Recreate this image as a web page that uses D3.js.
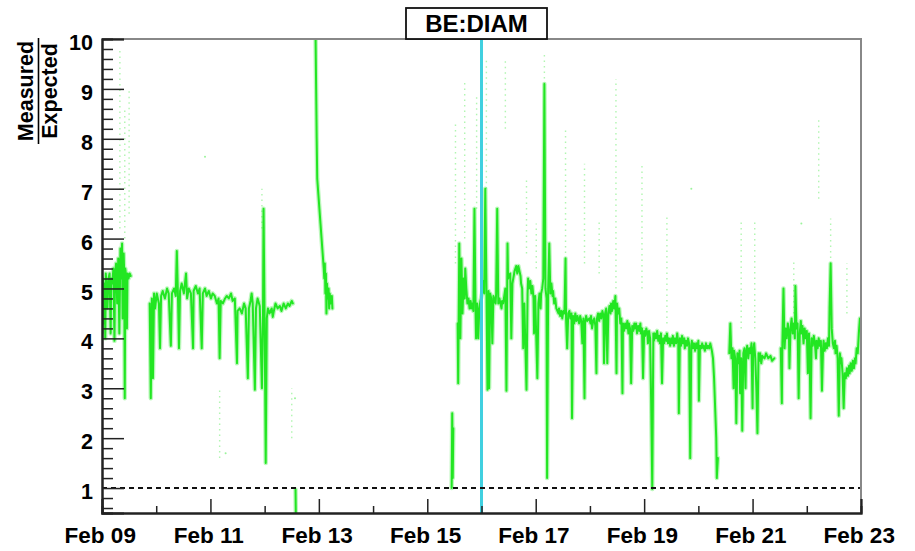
<!DOCTYPE html>
<html><head><meta charset="utf-8">
<script src="https://cdn.jsdelivr.net/npm/d3@7"></script>
<style>
body{margin:0;background:#fff}
svg{display:block}
text{font-family:"Liberation Sans",Arial,Helvetica,sans-serif;font-weight:bold;fill:#000}
</style>
</head><body>
<svg id="chart" width="915" height="551"></svg>
<script>
// ---------------- data ----------------
const startUTC = Date.UTC(2011, 1, 9); // Feb 09
const xDomainDays = [0, 14];
const yDomain = [0.5, 10];
const yMajorTicks = [1, 2, 3, 4, 5, 6, 7, 8, 9, 10];
const xMajorDays = [0, 2, 4, 6, 8, 10, 12, 14];
const xMinorDays = [1, 3, 5, 7, 9, 11, 13];
const chartTitle = "BE:DIAM";
const yTitleTop = "Measured";
const yTitleBottom = "Expected";
const refLineValue = 1;
const markerDay = 7.0;

// [day offset from Feb 09 00:00, measured/expected]
const segA = [[0.00,5.0],[0.01,4.1],[0.02,5.2],[0.03,4.3],[0.05,5.1],[0.06,4.0],[0.07,5.3],[0.09,5.0],[0.10,4.6],[0.12,5.2],[0.14,5.3],[0.16,4.1],[0.17,5.2],[0.19,5.1],[0.21,5.4],[0.23,3.95],[0.24,5.3],[0.26,5.5],[0.28,4.7],[0.30,5.6],[0.32,4.1],[0.34,5.8],[0.35,5.2],[0.37,5.9],[0.38,4.4],[0.40,5.7],[0.41,5.3],[0.42,2.8],[0.43,5.4],[0.45,5.2],[0.46,4.2],[0.47,5.3],[0.49,5.2],[0.51,5.3],[0.53,5.25]];
const segB = [[0.88,4.7],[0.90,2.8],[0.92,4.8],[0.94,3.2],[0.96,4.9],[0.98,4.6],[1.01,4.9],[1.05,4.7],[1.07,3.8],[1.09,4.85],[1.12,4.95],[1.16,4.8],[1.20,5.0],[1.23,4.9],[1.27,3.85],[1.29,4.9],[1.33,5.0],[1.36,4.85],[1.38,5.75],[1.40,4.9],[1.42,3.8],[1.44,4.95],[1.47,5.1],[1.51,4.9],[1.55,5.3],[1.57,4.8],[1.60,5.0],[1.64,4.9],[1.68,3.8],[1.69,4.95],[1.73,5.05],[1.77,4.9],[1.80,5.0],[1.84,3.8],[1.86,4.9],[1.90,5.0],[1.93,4.85],[1.97,4.95],[2.01,4.8],[2.04,4.9],[2.08,4.85],[2.12,4.7],[2.15,4.8],[2.17,3.6],[2.19,4.75],[2.23,4.7],[2.27,4.8],[2.30,4.85],[2.34,4.8],[2.38,4.9],[2.41,4.75],[2.45,4.8],[2.49,3.5],[2.50,4.55],[2.54,4.6],[2.58,4.5],[2.62,4.7],[2.65,4.6],[2.69,3.2],[2.71,4.6],[2.74,4.75],[2.76,4.9],[2.78,4.7],[2.82,2.97],[2.84,4.6],[2.87,4.8],[2.91,4.65],[2.95,3.0],[2.97,4.5],[2.98,6.6],[3.00,4.3],[3.02,1.5],[3.04,4.4],[3.06,4.6],[3.09,4.5],[3.13,4.6],[3.15,4.43],[3.17,4.55],[3.20,4.7],[3.24,4.6],[3.28,4.65],[3.31,4.55],[3.35,4.7],[3.39,4.6],[3.43,4.7],[3.46,4.65],[3.50,4.75],[3.52,4.7]];
const segDip = [[3.57,0.97],[3.575,0.5]];
const segC = [[3.94,10.0],[3.95,9.0],[3.96,8.0],[3.97,7.2],[3.99,6.9],[4.01,6.6],[4.03,6.3],[4.05,6.0],[4.07,5.7],[4.09,5.4],[4.10,5.2],[4.11,5.5],[4.12,4.9],[4.13,5.3],[4.14,4.5],[4.15,5.1],[4.16,4.8],[4.18,5.0],[4.19,4.6],[4.20,4.9],[4.22,4.7],[4.24,4.85],[4.25,4.6]];
const segD = [[6.45,1.0],[6.46,2.5],[6.47,1.2],[6.48,2.2]];
const segE = [[6.56,4.3],[6.57,3.1],[6.59,5.9],[6.61,4.0],[6.63,5.6],[6.65,4.5],[6.67,5.2],[6.69,4.8],[6.70,5.4],[6.72,5.0],[6.74,4.7],[6.76,4.8],[6.78,4.6],[6.80,4.75],[6.81,4.6],[6.83,4.7],[6.85,4.55],[6.87,6.6],[6.89,4.6],[6.90,4.0],[6.92,4.7],[6.94,4.0],[6.96,4.6],[6.98,4.75],[7.01,4.9],[7.03,5.15],[7.05,4.9],[7.07,7.0],[7.09,5.1],[7.11,2.97],[7.13,4.95],[7.14,3.0],[7.16,4.9],[7.18,4.8],[7.20,3.9],[7.22,4.85],[7.26,4.7],[7.27,4.9],[7.29,6.6],[7.31,4.7],[7.33,4.8],[7.37,4.6],[7.38,4.75],[7.40,4.7],[7.44,5.0],[7.46,2.95],[7.48,5.9],[7.49,5.2],[7.53,5.3],[7.55,4.0],[7.57,5.1],[7.61,5.35],[7.64,5.45],[7.66,5.3],[7.68,5.45],[7.72,5.25],[7.73,5.1],[7.75,5.0],[7.77,3.8],[7.79,4.7],[7.83,2.97],[7.85,4.9],[7.86,5.2],[7.88,5.0],[7.90,5.15],[7.92,4.9],[7.94,5.05],[7.96,4.8],[7.97,4.1],[7.99,4.85],[8.03,3.2],[8.05,4.7],[8.07,4.9],[8.09,4.6],[8.10,4.9],[8.12,5.0],[8.14,5.2],[8.16,9.1],[8.18,5.0],[8.20,4.8],[8.21,1.2],[8.23,5.0],[8.25,5.9],[8.27,4.9],[8.29,5.1],[8.31,4.85],[8.32,4.95],[8.34,4.7],[8.36,4.8],[8.38,4.6],[8.40,4.55],[8.42,4.5],[8.43,4.6],[8.45,4.45],[8.47,4.55],[8.49,4.4],[8.51,4.55],[8.53,4.5],[8.55,5.6],[8.56,4.4],[8.58,3.8],[8.60,4.5],[8.62,4.55],[8.64,4.4],[8.66,4.5],[8.67,2.4],[8.69,4.45],[8.71,4.3],[8.73,4.5],[8.75,4.35],[8.77,4.45],[8.80,4.3],[8.82,4.45],[8.84,4.35],[8.86,3.9],[8.88,4.4],[8.90,2.8],[8.91,4.3],[8.93,4.45],[8.95,4.35],[8.99,4.4],[9.01,4.3],[9.02,4.45],[9.04,4.2],[9.06,4.35],[9.08,4.4],[9.10,4.25],[9.12,3.3],[9.13,4.4],[9.15,4.5],[9.17,4.35],[9.19,4.5],[9.21,4.4],[9.23,4.55],[9.25,4.45],[9.26,3.5],[9.28,4.5],[9.30,4.6],[9.32,3.5],[9.34,4.5],[9.36,4.65],[9.38,4.5],[9.39,4.7],[9.41,4.55],[9.43,4.75],[9.45,4.6],[9.47,4.85],[9.49,3.3],[9.50,4.7],[9.52,4.5],[9.54,4.6],[9.56,4.3],[9.58,4.4],[9.60,2.9],[9.61,4.3],[9.63,4.15],[9.65,4.3],[9.67,4.2],[9.69,4.35],[9.71,4.1],[9.72,4.3],[9.74,4.2],[9.76,3.1],[9.78,4.25],[9.80,4.15],[9.82,4.3],[9.83,4.2],[9.85,4.3],[9.87,4.1],[9.89,4.25],[9.91,4.15],[9.93,4.3],[9.94,4.1],[9.96,4.2],[9.98,3.2],[10.00,4.15],[10.02,4.05],[10.04,4.2],[10.06,4.1],[10.07,3.9],[10.09,4.15],[10.11,4.0],[10.13,2.7],[10.15,0.98],[10.17,4.1],[10.18,3.95],[10.20,4.1],[10.22,4.0],[10.24,4.15],[10.26,3.95],[10.28,4.05],[10.29,3.9],[10.31,4.1],[10.33,3.1],[10.35,4.0],[10.37,3.9],[10.39,4.05],[10.41,3.95],[10.42,4.1],[10.44,3.9],[10.46,4.0],[10.48,3.85],[10.50,4.0],[10.52,3.9],[10.53,4.05],[10.55,3.85],[10.57,4.0],[10.59,3.9],[10.61,4.1],[10.63,3.9],[10.64,2.5],[10.66,4.0],[10.68,3.85],[10.70,4.05],[10.72,3.9],[10.74,4.0],[10.75,3.8],[10.77,3.95],[10.79,3.85],[10.81,4.0],[10.83,3.9],[10.85,1.6],[10.87,3.85],[10.88,3.95],[10.90,3.8],[10.92,3.9],[10.94,3.75],[10.96,3.9],[10.98,3.8],[11.00,3.95],[11.01,2.75],[11.03,3.85],[11.05,3.8],[11.07,3.9],[11.09,3.8],[11.10,3.85],[11.12,3.75],[11.14,3.9],[11.16,3.8],[11.18,3.85],[11.20,3.8],[11.22,3.9],[11.23,3.85],[11.25,3.75],[11.27,3.6],[11.29,3.2],[11.31,2.6],[11.33,2.0],[11.34,1.2],[11.36,1.6]];
const segF = [[11.57,3.7],[11.59,4.3],[11.61,3.6],[11.63,3.8],[11.65,3.0],[11.66,3.75],[11.68,3.6],[11.70,2.3],[11.72,3.7],[11.74,3.5],[11.76,3.75],[11.77,2.9],[11.79,3.6],[11.81,2.15],[11.83,3.7],[11.85,3.8],[11.87,3.0],[11.88,3.7],[11.90,3.85],[11.92,3.6],[11.94,3.8],[11.96,3.7],[11.98,3.9],[12.00,2.6],[12.01,3.75],[12.03,3.9],[12.05,3.6],[12.07,3.0],[12.09,2.1],[12.11,3.7],[12.13,3.55],[12.14,3.7],[12.16,3.5],[12.18,3.65],[12.22,3.6],[12.25,3.7],[12.29,3.6],[12.33,3.65],[12.36,3.55],[12.40,3.6]];
const segG = [[12.52,3.8],[12.54,2.7],[12.55,3.9],[12.57,5.0],[12.59,3.8],[12.61,4.2],[12.63,4.0],[12.65,4.3],[12.67,4.1],[12.68,3.4],[12.70,4.2],[12.72,4.4],[12.74,4.1],[12.76,4.3],[12.78,4.0],[12.79,5.05],[12.81,4.2],[12.83,4.3],[12.85,2.8],[12.87,4.1],[12.89,4.35],[12.90,4.1],[12.92,4.25],[12.94,3.9],[12.96,4.2],[12.98,4.0],[13.00,4.15],[13.02,3.3],[13.04,4.1],[13.05,3.9],[13.07,2.4],[13.09,4.0],[13.11,3.85],[13.13,4.05],[13.15,3.9],[13.17,3.6],[13.18,3.95],[13.20,3.8],[13.22,4.0],[13.24,3.85],[13.26,3.95],[13.28,2.95],[13.30,3.8],[13.31,3.95],[13.33,3.75],[13.35,3.9],[13.37,3.8],[13.39,4.0],[13.41,3.85],[13.42,4.6],[13.44,5.5],[13.46,4.2],[13.48,3.9],[13.50,3.8],[13.52,3.95],[13.53,3.7],[13.55,3.85],[13.57,3.6],[13.59,2.45],[13.61,3.7],[13.63,3.5],[13.64,3.6],[13.66,3.3],[13.68,2.6],[13.70,3.3],[13.72,3.2],[13.74,3.4],[13.76,3.25],[13.78,3.45],[13.79,3.3],[13.81,3.5],[13.83,3.35],[13.85,3.55],[13.87,3.4],[13.89,3.6],[13.90,3.5],[13.92,3.8],[13.94,3.7],[13.96,4.1],[13.98,4.4]];

// sparse, faint columns of scattered points: [day, low, high]
const faintRanges = [[0.33,6.2,9.8],[0.42,6.0,8.6],[0.50,6.5,9.0],[2.17,1.6,3.0],[2.95,6.2,7.0],[3.50,2.0,3.0],[6.52,5.5,8.3],[6.69,6.0,9.2],[6.91,6.6,8.9],[7.09,7.0,9.6],[7.44,8.2,9.6],[7.83,5.7,7.2],[8.01,5.4,6.3],[8.16,9.1,9.7],[8.55,5.6,8.2],[8.90,5.5,7.5],[9.17,5.3,6.4],[9.48,5.0,9.2],[9.96,5.0,7.5],[10.42,4.3,6.5],[11.79,4.2,6.4],[12.04,4.2,6.4],[12.76,4.5,5.6],[13.22,6.8,8.4],[13.44,5.5,6.4],[13.74,4.5,5.5]];
const faintDots = [[1.90,7.64],[2.28,1.7],[3.56,2.8],[10.87,7.0],[12.90,6.3]];

// ---------------- layout ----------------
const W = 915, H = 551;
const plot = {left: 102, right: 861, top: 39, bottom: 513};
const green = "#22e622";

const toDate = d => new Date(startUTC + d * 864e5);
const x = d3.scaleUtc().domain(xDomainDays.map(toDate)).range([plot.left, plot.right]);
const y = d3.scaleLinear().domain(yDomain).range([plot.bottom, plot.top]);

const svg = d3.select("#chart");
svg.append("rect").attr("width", W).attr("height", H).attr("fill", "#fff");

svg.append("defs").append("clipPath").attr("id", "clip")
  .append("rect").attr("x", plot.left).attr("y", plot.top)
  .attr("width", plot.right - plot.left).attr("height", plot.bottom - plot.top);

const g = svg.append("g").attr("clip-path", "url(#clip)");

// faint scattered columns
g.selectAll("line.faint").data(faintRanges).join("line")
  .attr("class", "faint")
  .attr("x1", d => x(toDate(d[0]))).attr("x2", d => x(toDate(d[0])))
  .attr("y1", d => y(d[1])).attr("y2", d => y(d[2]))
  .attr("stroke", green).attr("stroke-width", 1.4)
  .attr("stroke-dasharray", "1.5,4").attr("opacity", 0.35);
g.selectAll("circle.faint").data(faintDots).join("circle")
  .attr("cx", d => x(toDate(d[0]))).attr("cy", d => y(d[1]))
  .attr("r", 1).attr("fill", green).attr("opacity", 0.45);

// main trace: soft halo + core
const line = d3.line().x(d => x(toDate(d[0]))).y(d => y(d[1]));
const segments = [segA, segB, segDip, segC, segD, segE, segF, segG];
g.selectAll("path.halo").data(segments).join("path")
  .attr("class", "halo")
  .attr("d", line).attr("fill", "none")
  .attr("stroke", green).attr("stroke-width", 4.5).attr("opacity", 0.3)
  .attr("stroke-linejoin", "round").attr("stroke-linecap", "round");
g.selectAll("path.trace").data(segments).join("path")
  .attr("class", "trace")
  .attr("d", line).attr("fill", "none")
  .attr("stroke", green).attr("stroke-width", 2)
  .attr("stroke-linejoin", "round").attr("stroke-linecap", "round");

// marker line (cyan)
svg.append("line")
  .attr("x1", x(toDate(markerDay))).attr("x2", x(toDate(markerDay)))
  .attr("y1", plot.top).attr("y2", plot.bottom)
  .attr("stroke", "#40d0e0").attr("stroke-width", 3);

// reference line at 1
svg.append("line")
  .attr("x1", plot.left).attr("x2", plot.right)
  .attr("y1", y(refLineValue)).attr("y2", y(refLineValue))
  .attr("stroke", "#111").attr("stroke-width", 2).attr("stroke-dasharray", "5,4");

// frame (top/right grey)
svg.append("path")
  .attr("d", `M${plot.left},${plot.top}H${plot.right}V${plot.bottom}`)
  .attr("fill", "none").attr("stroke", "#888").attr("stroke-width", 2);

// y axis
const yMinor = d3.range(6, 101, 2).map(v => v / 10).filter(v => !yMajorTicks.includes(v));
const yAxisMinor = svg.append("g").attr("transform", `translate(${plot.left},0)`)
  .call(d3.axisLeft(y).tickValues(yMinor).tickSize(-11).tickFormat(""));
const yAxis = svg.append("g").attr("transform", `translate(${plot.left},0)`)
  .call(d3.axisLeft(y).tickValues(yMajorTicks).tickSize(-22).tickPadding(9).tickFormat(d3.format("d")));
yAxis.selectAll("text").attr("font-size", 21.5).attr("dy", "0.49em");
[yAxis, yAxisMinor].forEach(a => {
  a.select(".domain").attr("stroke", "#222").attr("stroke-width", 2);
  a.selectAll(".tick line").attr("stroke", "#222").attr("stroke-width", 1.5);
});

// x axis
const xAxisMinor = svg.append("g").attr("transform", `translate(0,${plot.bottom})`)
  .call(d3.axisBottom(x).tickValues(xMinorDays.map(toDate)).tickSize(-7).tickFormat(""));
const xAxis = svg.append("g").attr("transform", `translate(0,${plot.bottom})`)
  .call(d3.axisBottom(x).tickValues(xMajorDays.map(toDate)).tickSize(-14).tickPadding(14)
    .tickFormat(d3.utcFormat("%b %d")));
xAxis.selectAll("text").attr("font-size", 22.5).attr("dx", "-0.1em");
[xAxis, xAxisMinor].forEach(a => {
  a.select(".domain").attr("stroke", "#222").attr("stroke-width", 2);
  a.selectAll(".tick line").attr("stroke", "#222").attr("stroke-width", 1.5);
});

// y title as fraction
const yt = svg.append("g").attr("transform", "translate(0,91)");
yt.append("text").attr("transform", "translate(33,0) rotate(-90)")
  .attr("text-anchor", "middle").attr("font-size", 21.5).text(yTitleTop);
yt.append("text").attr("transform", "translate(57,0) rotate(-90)")
  .attr("text-anchor", "middle").attr("font-size", 21.5).text(yTitleBottom);
yt.append("line").attr("x1", 38.5).attr("x2", 38.5).attr("y1", -53).attr("y2", 53)
  .attr("stroke", "#000").attr("stroke-width", 1.6);

// title box
svg.append("rect").attr("x", 406).attr("y", 8).attr("width", 141).attr("height", 31)
  .attr("fill", "#fff").attr("stroke", "#111").attr("stroke-width", 1.8);
svg.append("text").attr("x", 476.5).attr("y", 32).attr("text-anchor", "middle")
  .attr("font-size", 24).text(chartTitle);
</script>
</body></html>
